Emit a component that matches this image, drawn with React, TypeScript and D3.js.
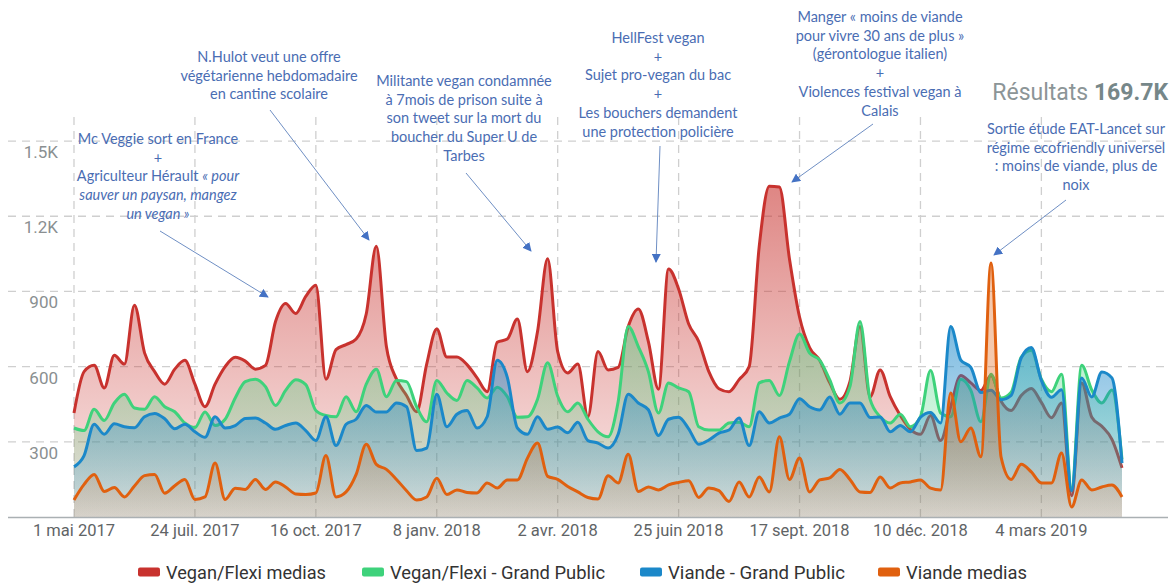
import React, { useRef, useEffect } from 'react';
import * as d3 from 'd3';

// weekly points, from 1 May 2017
const START = Date.UTC(2017, 4, 1);
const weeks = d3.range(105).map(i => new Date(START + i * 7 * 864e5));

const vegFlexMedias = [
  415, 580, 605, 515, 645, 610, 845, 655, 580, 530,
  590, 625, 530, 440, 530, 600, 637, 622, 590, 605,
  780, 852, 812, 880, 925, 550, 668, 688, 710, 810,
  1080, 680, 550, 485, 420, 610, 750, 638, 638, 608,
  555, 500, 697, 710, 790, 580, 740, 1030, 660, 575,
  610, 400, 660, 587, 597, 760, 830, 700, 510, 990,
  910, 770, 700, 580, 512, 500, 548, 600, 1080, 1320,
  1317, 1030, 798, 676, 625, 535, 470, 540, 760, 480,
  587, 480, 405, 350, 330, 405, 305, 440, 565, 535,
  505, 565, 462, 425, 485, 513, 457, 396, 455, 85,
  535, 398, 362, 310, 196,
];

const vegFlexPublic = [
  355, 345, 430, 385, 455, 490, 435, 430, 480, 440,
  420, 375, 357, 419, 365, 390, 475, 540, 550, 520,
  445, 505, 548, 528, 425, 405, 400, 480, 420, 530,
  590, 480, 545, 540, 440, 380, 545, 495, 465, 545,
  515, 475, 518, 480, 398, 400, 470, 615, 482, 420,
  455, 390, 340, 320, 460, 760, 680, 580, 415, 535,
  515, 500, 360, 347, 347, 375, 378, 360, 535, 545,
  485, 620, 730, 654, 626, 547, 455, 520, 780, 470,
  400, 375, 410, 360, 400, 585, 415, 400, 550, 505,
  380, 570, 475, 498, 638, 665, 550, 500, 570, 115,
  605, 507, 455, 507, 230,
];

const viandePublic = [
  200, 245, 370, 330, 372, 360, 356, 400, 413, 392,
  352, 370, 340, 318, 400, 355, 365, 393, 395, 375,
  350, 365, 375, 345, 305, 400, 285, 370, 390, 445,
  419, 419, 455, 440, 265, 275, 490, 360, 410, 425,
  355, 400, 625, 557, 355, 330, 400, 350, 359, 336,
  378, 305, 295, 275, 330, 490, 455, 428, 325, 390,
  398, 352, 290, 307, 335, 347, 395, 285, 420, 375,
  395, 410, 472, 440, 427, 479, 410, 455, 455, 397,
  399, 340, 365, 340, 398, 417, 375, 760, 626, 597,
  497, 506, 468, 485, 635, 676, 545, 478, 508, 105,
  555, 479, 579, 555, 215,
];

const viandeMedias = [
  68, 130, 170, 102, 118, 80, 124, 165, 170, 95,
  125, 150, 70, 80, 215, 70, 115, 110, 150, 110,
  140, 120, 92, 90, 96, 245, 80, 100, 170, 290,
  210, 190, 150, 105, 68, 80, 155, 90, 108, 98,
  96, 136, 116, 148, 148, 235, 295, 162, 150, 122,
  100, 78, 72, 165, 136, 250, 102, 120, 108, 128,
  138, 145, 78, 116, 105, 62, 140, 80, 160, 100,
  320, 150, 235, 100, 148, 156, 190, 150, 100, 98,
  160, 116, 136, 140, 148, 115, 108, 495, 300, 355,
  240, 1013, 239, 150, 210, 180, 136, 136, 255, 40,
  148, 108, 120, 128, 80,
];

const seriesNames = ['Vegan/Flexi medias', 'Vegan/Flexi - Grand Public', 'Viande - Grand Public', 'Viande medias'];
const seriesValues = [vegFlexMedias, vegFlexPublic, viandePublic, viandeMedias];
const seriesColors = ['#c8322e', '#3ed27b', '#1b88c9', '#e0600f'];

const yTicks = [300, 600, 900, 1200, 1500];
const yTickLabels = ['300', '600', '900', '1.2K', '1.5K'];
const xTickWeeks = [0, 12, 24, 36, 48, 60, 72, 84, 96];
const xTickLabels = ['1 mai 2017', '24 juil. 2017', '16 oct. 2017', '8 janv. 2018', '2 avr. 2018', '25 juin 2018', '17 sept. 2018', '10 déc. 2018', '4 mars 2019'];

type Seg = { t: string; i?: boolean };
const annotations: { cx: number; top: number; lines: Seg[][]; arrow: number[] }[] = [
  {
    cx: 158, top: 144,
    lines: [
      [{ t: 'Mc Veggie sort en France' }],
      [{ t: '+' }],
      [{ t: 'Agriculteur Hérault ' }, { t: '« pour', i: true }],
      [{ t: 'sauver un paysan, mangez', i: true }],
      [{ t: 'un vegan »', i: true }],
    ],
    arrow: [160, 231, 268, 297],
  },
  {
    cx: 269, top: 62,
    lines: [[{ t: 'N.Hulot veut une offre' }], [{ t: 'végétarienne hebdomadaire' }], [{ t: 'en cantine scolaire' }]],
    arrow: [270, 110, 369, 240],
  },
  {
    cx: 464, top: 86,
    lines: [
      [{ t: 'Militante vegan condamnée' }],
      [{ t: 'à 7mois de prison suite à' }],
      [{ t: 'son tweet sur la mort du' }],
      [{ t: 'boucher du Super U de' }],
      [{ t: 'Tarbes' }],
    ],
    arrow: [466, 173, 531, 251],
  },
  {
    cx: 658, top: 43,
    lines: [
      [{ t: 'HellFest vegan' }],
      [{ t: '+' }],
      [{ t: 'Sujet pro-vegan du bac' }],
      [{ t: '+' }],
      [{ t: 'Les bouchers demandent' }],
      [{ t: 'une protection policière' }],
    ],
    arrow: [660, 146, 656, 262],
  },
  {
    cx: 880, top: 22,
    lines: [
      [{ t: 'Manger « moins de viande' }],
      [{ t: 'pour vivre 30 ans de plus »' }],
      [{ t: '(gérontologue italien)' }],
      [{ t: '+' }],
      [{ t: 'Violences festival vegan à' }],
      [{ t: 'Calais' }],
    ],
    arrow: [873, 124, 792, 182],
  },
  {
    cx: 1076, top: 134,
    lines: [
      [{ t: 'Sortie étude EAT-Lancet sur' }],
      [{ t: 'régime ecofriendly universel' }],
      [{ t: ': moins de viande, plus de' }],
      [{ t: 'noix' }],
    ],
    arrow: [1066, 200, 994, 255],
  },
];

const legendX = [138, 362, 640, 878];
const legendLen = [160, 215, 177, 121];

export default function App() {
  const ref = useRef<SVGSVGElement>(null);

  useEffect(() => {
    if (!ref.current) return;
    const svg = d3.select(ref.current);
    svg.selectAll('*').remove();

    const x = d3.scaleUtc().domain([weeks[0], weeks[weeks.length - 1]]).range([74, 1122]);
    const y = d3.scaleLinear().domain([0, 1600]).range([517, 116]);

    const defs = svg.append('defs');
    const gradTop = [1350, 850, 800, 550];
    const gradOp = [[0.6, 0.1], [0.45, 0.08], [0.6, 0.1], [0.34, 0.1]];
    seriesColors.forEach((c, i) => {
      const g = defs.append('linearGradient')
        .attr('id', `grad${i}`)
        .attr('gradientUnits', 'userSpaceOnUse')
        .attr('x1', 0).attr('x2', 0)
        .attr('y1', y(gradTop[i])).attr('y2', y(0));
      g.append('stop').attr('offset', 0).attr('stop-color', c).attr('stop-opacity', gradOp[i][0]);
      g.append('stop').attr('offset', 1).attr('stop-color', c).attr('stop-opacity', gradOp[i][1]);
    });
    defs.append('marker')
      .attr('id', 'arrowhead')
      .attr('viewBox', '0 0 10 10')
      .attr('refX', 9).attr('refY', 5)
      .attr('markerWidth', 9).attr('markerHeight', 9)
      .attr('markerUnits', 'userSpaceOnUse')
      .attr('orient', 'auto')
      .append('path').attr('d', 'M0,0 L10,5 L0,10 z').attr('fill', '#4472c4');

    // grid
    const grid = svg.append('g');
    grid.selectAll('.hgrid').data(yTicks).enter().append('line')
      .attr('x1', 8).attr('x2', 1170)
      .attr('y1', d => y(d)).attr('y2', d => y(d))
      .attr('stroke', '#cfcfcf').attr('stroke-width', 1.3).attr('stroke-dasharray', '8,6');
    grid.selectAll('.vgrid').data(xTickWeeks).enter().append('line')
      .attr('x1', d => x(weeks[d])).attr('x2', d => x(weeks[d]))
      .attr('y1', 117).attr('y2', 517)
      .attr('stroke', '#cfcfcf').attr('stroke-width', 1.3).attr('stroke-dasharray', '8,6');

    // series
    const area = d3.area<number>()
      .x((_, i) => x(weeks[i]))
      .y0(y(0))
      .y1(d => y(d))
      .curve(d3.curveMonotoneX);
    const line = d3.line<number>()
      .x((_, i) => x(weeks[i]))
      .y(d => y(d))
      .curve(d3.curveMonotoneX);

    seriesValues.forEach((vals, i) => {
      svg.append('path').datum(vals).attr('fill', `url(#grad${i})`).attr('d', area);
      svg.append('path').datum(vals)
        .attr('fill', 'none')
        .attr('stroke', seriesColors[i])
        .attr('stroke-width', 3)
        .attr('stroke-linejoin', 'round')
        .attr('d', line);
    });

    // axis
    svg.append('line')
      .attr('x1', 8).attr('x2', 1168).attr('y1', 517.5).attr('y2', 517.5)
      .attr('stroke', '#aab0b3').attr('stroke-width', 1.6);

    svg.selectAll('.ylab').data(yTicks).enter().append('text')
      .attr('x', 58).attr('y', d => y(d) + 17)
      .attr('text-anchor', 'end')
      .attr('font-family', 'Roboto').attr('font-size', 17)
      .attr('fill', '#8a8f91')
      .text((_, i) => yTickLabels[i]);

    svg.selectAll('.xlab').data(xTickWeeks).enter().append('text')
      .attr('x', d => x(weeks[d])).attr('y', 536)
      .attr('text-anchor', 'middle')
      .attr('font-family', 'Roboto').attr('font-size', 16.5)
      .attr('fill', '#5f6466')
      .text((_, i) => xTickLabels[i]);

    // title
    const title = svg.append('text')
      .attr('x', 1168).attr('y', 100)
      .attr('text-anchor', 'end')
      .attr('font-family', 'Roboto').attr('font-size', 23);
    title.append('tspan').attr('fill', '#8c9597').text('Résultats ');
    title.append('tspan').attr('fill', '#768789').attr('font-weight', 'bold').text('169.7K');

    // annotations
    annotations.forEach(a => {
      const g = svg.append('g');
      a.lines.forEach((segs, li) => {
        const t = g.append('text')
          .attr('x', a.cx).attr('y', a.top + li * 18.7)
          .attr('text-anchor', 'middle')
          .attr('font-family', 'Lato').attr('font-size', 14.5)
          .attr('fill', '#4a6db3');
        segs.forEach(s => t.append('tspan').attr('font-style', s.i ? 'italic' : 'normal').text(s.t));
      });
      g.append('line')
        .attr('x1', a.arrow[0]).attr('y1', a.arrow[1])
        .attr('x2', a.arrow[2]).attr('y2', a.arrow[3])
        .attr('stroke', '#6f8fc4').attr('stroke-width', 1)
        .attr('marker-end', 'url(#arrowhead)');
    });

    // legend
    const legend = svg.append('g');
    seriesNames.forEach((n, i) => {
      legend.append('rect')
        .attr('x', legendX[i]).attr('y', 567.5)
        .attr('width', 22).attr('height', 9).attr('rx', 2)
        .attr('fill', seriesColors[i]);
      legend.append('text')
        .attr('x', legendX[i] + 28).attr('y', 579)
        .attr('font-family', 'Roboto').attr('font-size', 18.5)
        .attr('fill', '#333')
        .attr('textLength', legendLen[i]).attr('lengthAdjust', 'spacingAndGlyphs')
        .text(n);
    });
  }, []);

  return (
    <div style={{ position: 'absolute', left: 0, top: 0 }}>
      <svg ref={ref} width={1175} height={585} style={{ display: 'block', background: '#fff' }} />
    </div>
  );
}
